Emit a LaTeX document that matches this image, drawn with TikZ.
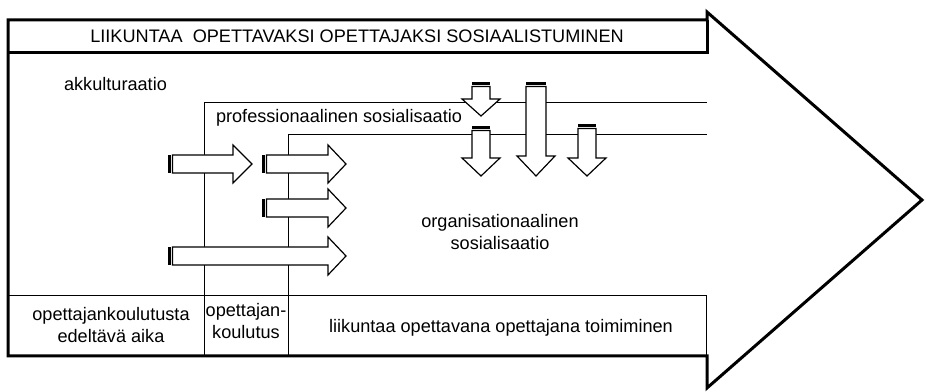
\documentclass[tikz,border=0pt]{standalone}
\usepackage{fontspec}
\setmainfont{Liberation Sans}

\tikzset{every picture/.style={line width=0.75pt}}
\tikzset{
	bigline/.style={line width=2.25pt, line join=miter},
	blockarrow/.style={fill=white, line width=0.9pt},
	tailbar/.style={fill=black, draw=none},
	lbl/.style={font=\fontsize{13.6}{16.5}\selectfont, inner sep=0pt, align=center, anchor=base},
}

\begin{document}
\begin{tikzpicture}[x=0.75pt,y=0.75pt,yscale=-1,xscale=1]
	\useasboundingbox (0,0) rectangle (926,392); %set diagram to 926 x 392

	%Straight Lines
	\draw    (204,296) -- (204,103) -- (707,103) ;
	%Straight Lines
	\draw    (288,296) -- (288,135) -- (707,135) ;
	%Shape: Rectangle
	\draw    (8,296) -- (706,296) -- (706,356) ;
	%Straight Lines
	\draw    (204,296) -- (204,356) ;
	%Straight Lines
	\draw    (288,296) -- (288,356) ;

	%Shape: Right Arrow
	\fill [tailbar] (168,155) rectangle (171,173) ;
	\draw [blockarrow] (172.5,155) -- (233,155) -- (233,145) -- (252,164) -- (233,183) -- (233,173) -- (172.5,173) -- cycle ;
	%Shape: Right Arrow
	\fill [tailbar] (262,155) rectangle (265,173) ;
	\draw [blockarrow] (266.5,155) -- (328,155) -- (328,145) -- (346,164) -- (328,183) -- (328,173) -- (266.5,173) -- cycle ;
	%Shape: Right Arrow
	\fill [tailbar] (262,199) rectangle (265,217) ;
	\draw [blockarrow] (266.5,199) -- (328,199) -- (328,189) -- (346,208) -- (328,227) -- (328,217) -- (266.5,217) -- cycle ;
	%Shape: Right Arrow
	\fill [tailbar] (168,247) rectangle (171,265) ;
	\draw [blockarrow] (172.5,247) -- (328,247) -- (328,237) -- (346,256) -- (328,275) -- (328,265) -- (172.5,265) -- cycle ;

	%Shape: Down Arrow
	\fill [tailbar] (472,82) rectangle (490,85) ;
	\draw [blockarrow] (472,86.5) -- (490,86.5) -- (490,99) -- (500,99) -- (481,116) -- (462,99) -- (472,99) -- cycle ;
	%Shape: Down Arrow
	\fill [tailbar] (472,126) rectangle (490,129) ;
	\draw [blockarrow] (472,130.5) -- (490,130.5) -- (490,158) -- (500,158) -- (481,176) -- (462,158) -- (472,158) -- cycle ;
	%Shape: Down Arrow
	\fill [tailbar] (526,82) rectangle (546,85) ;
	\draw [blockarrow] (526,86.5) -- (546,86.5) -- (546,156) -- (555,156) -- (536,176) -- (517,156) -- (526,156) -- cycle ;
	%Shape: Down Arrow
	\fill [tailbar] (578,124) rectangle (596,127) ;
	\draw [blockarrow] (578,128.5) -- (596,128.5) -- (596,158) -- (606,158) -- (587,176) -- (568,158) -- (578,158) -- cycle ;

	%Shape: Right Arrow
	\draw [bigline] (8,20) -- (707,20) -- (707,12) -- (922,200) -- (707,388) -- (707,356) -- (8,356) -- cycle ;
	%Straight Lines
	\draw [bigline] (8,53) -- (707,53) -- (707,20) ;

	% Text Node
	\draw (357,43) node [lbl] (title) {LIIKUNTAA\ \ OPETTAVAKSI OPETTAJAKSI SOSIAALISTUMINEN};
	% Text Node
	\draw (115.5,91) node [lbl] (akku) {akkulturaatio};
	% Text Node
	\draw (339,123) node [lbl] (prof) {professionaalinen sosialisaatio};
	% Text Node
	\draw (500,250) node [lbl] (org) {organisationaalinen\\sosialisaatio};
	% Text Node
	\draw (111,343) node [lbl] (pre) {opettajankoulutusta\\edeltävä aika};
	% Text Node
	\draw (246,339) node [lbl] (edu) {opettajan-\\koulutus};
	% Text Node
	\draw (501,333) node [lbl] (work) {liikuntaa opettavana opettajana toimiminen};

\end{tikzpicture}
\end{document}
